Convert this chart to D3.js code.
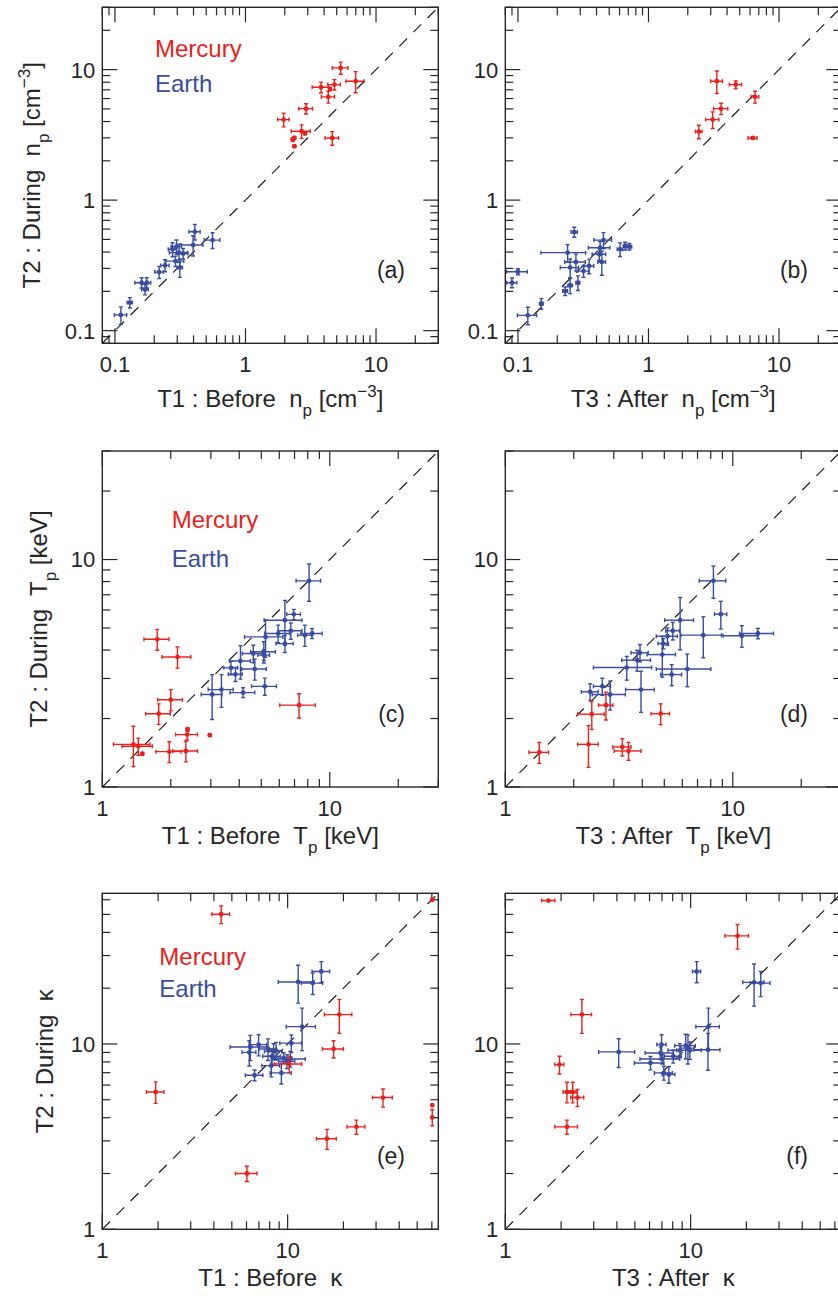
<!DOCTYPE html>
<html><head><meta charset="utf-8">
<script src="https://cdn.jsdelivr.net/npm/d3@7"></script>
<style>
body{margin:0;background:#fff;}
svg{display:block;font-family:"Liberation Sans",Arial,Helvetica,sans-serif;}
</style></head><body>
<svg id="chart" width="838" height="1296"></svg>
<script>
// ---------- DATA: each point is [x, xError, y, yError] ----------
const npDomain = [0.08, 30];
const tpDomain = [1, 30];
const kappaDomain = [1, 65];
const npTicks = [0.1, 1, 10];
const tpTicks = [1, 10];
const kappaTicks = [1, 10];

const npBeforeMercury = [
  [5.36,0.74,10.3,1.1],[6.98,1.1,8.15,1.5],[4.8,0.53,7.67,0.7],[3.79,0.55,7.32,0.7],
  [4.44,0.1,7.1,0.2],[4.31,0.5,6.18,0.65],[2.91,0.35,5.02,0.45],[1.96,0.2,4.14,0.5],
  [2.69,0.45,3.37,0.4],[2.86,0.05,3.24,0.05],[2.3,0.05,2.91,0.1],[2.37,0.04,3.0,0.05],
  [2.37,0.03,2.59,0.04],[4.62,0.55,2.99,0.36]
];
const npBeforeEarth = [
  [0.409,0.04,0.573,0.078],[0.559,0.077,0.494,0.068],[0.397,0.075,0.453,0.08],[0.276,0.02,0.42,0.052],
  [0.296,0.027,0.44,0.055],[0.31,0.049,0.396,0.063],[0.333,0.03,0.39,0.036],[0.291,0.046,0.341,0.031],
  [0.314,0.015,0.304,0.048],[0.242,0.018,0.316,0.033],[0.218,0.016,0.281,0.03],[0.16,0.018,0.233,0.021],
  [0.175,0.013,0.233,0.021],[0.17,0.01,0.207,0.019],[0.13,0.006,0.164,0.015],[0.111,0.012,0.132,0.02]
];
const npAfterMercury = [
  [3.34,0.35,8.15,1.6],[4.66,0.5,7.67,0.5],[6.55,0.45,6.18,0.65],[3.6,0.45,5.02,0.5],
  [3.1,0.36,4.14,0.6],[2.43,0.14,3.35,0.4],[6.29,0.5,2.99,0.07]
];
const npAfterEarth = [
  [0.27,0.015,0.569,0.05],[0.662,0.02,0.445,0.03],[0.714,0.03,0.44,0.025],[0.606,0.03,0.42,0.05],
  [0.452,0.07,0.494,0.07],[0.426,0.08,0.432,0.05],[0.42,0.05,0.385,0.04],[0.439,0.03,0.336,0.07],
  [0.24,0.09,0.396,0.06],[0.278,0.05,0.336,0.05],[0.251,0.04,0.304,0.05],[0.318,0.03,0.286,0.03],
  [0.351,0.03,0.313,0.04],[0.23,0.01,0.201,0.015],[0.251,0.01,0.222,0.03],[0.288,0.01,0.233,0.03],
  [0.1,0.018,0.283,0.015],[0.09,0.008,0.233,0.02],[0.151,0.005,0.161,0.015],[0.119,0.02,0.131,0.02]
];
const tpBeforeMercury = [
  [1.744,0.22,4.46,0.47],[2.14,0.31,3.73,0.4],[2.0,0.25,2.42,0.26],[1.77,0.22,2.1,0.22],
  [7.33,1.3,2.29,0.28],[1.37,0.25,1.54,0.31],[1.44,0.22,1.51,0.13],[1.5,0.01,1.4,0.01],
  [1.97,0.25,1.43,0.15],[2.33,0.29,1.44,0.15],[2.36,0.26,1.7,0.09],[2.37,0.02,1.79,0.03],
  [2.97,0.02,1.69,0.02]
];
const tpBeforeEarth = [
  [8.11,1.0,8.06,1.5],[6.95,0.48,5.74,0.3],[6.35,1.2,5.41,1.2],[6.74,0.8,4.86,0.4],
  [5.93,0.75,4.73,0.42],[6.35,0.55,4.27,0.37],[7.77,0.55,4.65,0.5],[8.36,0.9,4.73,0.24],
  [5.22,1.0,4.57,0.85],[5.13,0.64,3.93,0.42],[5.13,0.3,3.8,0.2],[4.61,0.49,3.86,0.34],
  [4.68,0.58,3.3,0.35],[4.05,0.43,3.58,0.6],[3.68,0.26,3.34,0.23],[3.85,0.27,3.13,0.22],
  [5.18,0.65,2.77,0.24],[4.16,0.52,2.6,0.13],[3.34,0.42,2.68,0.44],[3.04,0.32,2.55,0.57]
];
const tpAfterMercury = [
  [1.41,0.14,1.42,0.15],[2.32,0.24,1.54,0.32],[2.4,0.32,2.09,0.3],[2.77,0.2,2.29,0.32],
  [3.27,0.3,1.5,0.13],[3.48,0.47,1.44,0.13],[4.82,0.45,2.1,0.22]
];
const tpAfterEarth = [
  [8.22,1.1,8.06,1.3],[8.86,0.55,5.75,0.8],[5.87,0.85,5.41,1.4],[5.45,0.38,4.86,0.43],
  [5.16,0.55,4.6,0.4],[4.95,0.26,4.27,0.22],[4.9,0.7,3.82,0.78],[7.42,1.5,4.65,0.95],
  [10.96,1.9,4.62,0.5],[12.9,2.2,4.73,0.25],[6.31,1.7,3.3,0.54],[5.39,0.57,3.12,0.33],
  [3.91,0.34,3.89,0.34],[3.8,0.55,3.61,0.38],[3.42,0.98,3.35,0.4],[3.95,0.57,2.68,0.55],
  [2.67,0.23,2.77,0.24],[2.89,0.48,2.55,0.37],[2.36,0.2,2.62,0.22]
];
const kappaBeforeMercury = [
  [4.38,0.48,50.1,5.5],[1.94,0.21,5.51,0.73],[6.03,0.8,2.0,0.19],[19.0,3.2,14.4,3.0],
  [17.7,2.3,9.4,1.0],[16.3,2.0,3.08,0.38],[23.5,2.6,3.57,0.31],[32.7,4.0,5.14,0.58],
  [10.2,1.7,7.8,0.8],[60.3,0,60,0],[60.3,0,4.67,0],[60.3,0,4.02,0.4]
];
const kappaBeforeEarth = [
  [15.2,1.65,24.6,3.2],[13.65,1.8,21.3,2.8],[11.4,2.5,21.6,5.0],[11.97,2.15,12.4,3.2],
  [10.47,1.4,10.1,1.1],[6.29,1.4,9.63,1.5],[6.97,0.76,9.92,1.3],[6.21,0.53,9.01,1.4],
  [7.84,0.85,9.4,1.25],[8.4,0.9,9.12,0.9],[8.66,0.7,9.2,1.0],[8.24,0.9,8.58,0.8],
  [9.52,1.0,8.41,0.55],[10.34,2.1,8.3,0.8],[9.92,1.0,8.06,0.7],[8.16,0.9,7.64,1.0],
  [9.25,1.2,6.98,0.9],[6.63,0.72,6.78,0.45]
];
const kappaAfterMercury = [
  [1.71,0.14,59.4,0],[17.9,2.6,38.3,5.8],[2.59,0.33,14.4,3.0],[1.96,0.11,7.74,0.85],
  [2.15,0.1,5.51,0.7],[2.31,0.1,5.51,0.7],[2.45,0.2,5.14,0.55],[2.15,0.3,3.57,0.31]
];
const kappaAfterEarth = [
  [10.78,0.55,24.6,3.2],[22.0,2.9,21.5,5.5],[23.9,2.9,21.3,3.3],[12.47,1.8,12.4,3.2],
  [12.4,2.0,9.31,2.1],[4.09,0.9,9.06,1.6],[6.07,1.1,7.9,0.65],[6.97,0.4,9.92,1.3],
  [6.88,1.2,8.94,0.7],[7.03,1.7,8.3,0.5],[8.06,0.85,8.58,0.7],[8.75,1.2,9.24,0.8],
  [9.4,1.2,9.79,1.5],[9.67,0.8,9.5,1.7],[9.91,1.5,9.24,1.0],[7.17,0.8,6.98,0.6],
  [7.63,0.6,6.84,0.7]
];
const seriesNames = ["Mercury", "Earth"];
const panelLabels = ["(a)", "(b)", "(c)", "(d)", "(e)", "(f)"];

// ---------- LAYOUT ----------
const svg = d3.select("#chart");
const S = 336;
const colX = [102.3, 505.3];
const rowY = [7.3, 451, 893.3];
const RED = "#e8211d", BLUE = "#3a4ca0", INK = "#262626";
const xTitleBase = [64, 56.6, 56.7];
const yTitleX = [40, 47, 53];
const legendPos = [[155, 56.5, 91.7], [171.7, 528.3, 567.3], [159.3, 965, 997.3]];

const T_np = (pre) => [{t: pre + "  n"}, {t: "p", s: 1}, {t: " [cm"}, {t: "\u22123", s: -1}, {t: "]"}];
const T_tp = (pre) => [{t: pre + "  T"}, {t: "p", s: 1}, {t: " [keV]"}];
const T_k = (pre) => [{t: pre + "  \u03ba"}];

const panels = [
  {c:0, r:0, dom:npDomain, ticks:npTicks, merc:npBeforeMercury, earth:npBeforeEarth, xt:T_np("T1 : Before"), yt:T_np("T2 : During")},
  {c:1, r:0, dom:npDomain, ticks:npTicks, merc:npAfterMercury, earth:npAfterEarth, xt:T_np("T3 : After")},
  {c:0, r:1, dom:tpDomain, ticks:tpTicks, merc:tpBeforeMercury, earth:tpBeforeEarth, xt:T_tp("T1 : Before"), yt:T_tp("T2 : During")},
  {c:1, r:1, dom:tpDomain, ticks:tpTicks, merc:tpAfterMercury, earth:tpAfterEarth, xt:T_tp("T3 : After")},
  {c:0, r:2, dom:kappaDomain, ticks:kappaTicks, merc:kappaBeforeMercury, earth:kappaBeforeEarth, xt:T_k("T1 : Before"), yt:T_k("T2 : During")},
  {c:1, r:2, dom:kappaDomain, ticks:kappaTicks, merc:kappaAfterMercury, earth:kappaAfterEarth, xt:T_k("T3 : After")}
];

function addSegs(text, segs, big, small) {
  let cur = 0;
  segs.forEach(sg => {
    const target = sg.s === 1 ? 9 : (sg.s === -1 ? -10 : 0);
    text.append("tspan").attr("dy", target - cur)
      .attr("font-size", sg.s ? small : big).text(sg.t);
    cur = target;
  });
}

panels.forEach((p, i) => {
  const x0 = colX[p.c], y0 = rowY[p.r];
  const xs = d3.scaleLog().domain(p.dom).range([x0, x0 + S]);
  const ys = d3.scaleLog().domain(p.dom).range([y0 + S, y0]);
  const g = svg.append("g");
  const clipId = "clip" + i;
  svg.append("clipPath").attr("id", clipId).append("rect")
    .attr("x", x0).attr("y", y0).attr("width", S).attr("height", S);

  // diagonal
  g.append("line").attr("clip-path", `url(#${clipId})`)
    .attr("x1", xs(p.dom[0])).attr("y1", ys(p.dom[0]))
    .attr("x2", xs(p.dom[1])).attr("y2", ys(p.dom[1]))
    .attr("stroke", "#222").attr("stroke-width", 1.2).attr("stroke-dasharray", "11,9");

  // ticks
  const all = xs.ticks();
  const isMajor = v => p.ticks.some(t => Math.abs(t - v) / t < 1e-6);
  all.forEach(v => {
    const L = isMajor(v) ? 15 : 8;
    const px = xs(v), py = ys(v);
    [[px, y0 + S, px, y0 + S - L], [px, y0, px, y0 + L],
     [x0, py, x0 + L, py], [x0 + S, py, x0 + S - L, py]].forEach(q => {
      g.append("line").attr("x1", q[0]).attr("y1", q[1]).attr("x2", q[2]).attr("y2", q[3])
        .attr("stroke", INK).attr("stroke-width", 1.2);
    });
  });
  // frame
  g.append("rect").attr("x", x0).attr("y", y0).attr("width", S).attr("height", S)
    .attr("fill", "none").attr("stroke", INK).attr("stroke-width", 1.4);

  // tick labels
  p.ticks.forEach(t => {
    g.append("text").attr("x", xs(t)).attr("y", y0 + S + 29).attr("text-anchor", "middle")
      .attr("font-size", 22).attr("fill", INK).text(String(t));
    g.append("text").attr("x", x0 - 7).attr("y", ys(t)).attr("dy", "0.36em").attr("text-anchor", "end")
      .attr("font-size", 22).attr("fill", INK).text(String(t));
  });

  // x title
  const xt = g.append("text").attr("x", x0 + S / 2).attr("y", y0 + S + xTitleBase[p.r])
    .attr("text-anchor", "middle").attr("fill", INK).style("white-space", "pre");
  addSegs(xt, p.xt, 24, 17);
  // y title
  if (p.yt) {
    const yt = g.append("text")
      .attr("transform", `translate(${yTitleX[p.r]},${y0 + S / 2}) rotate(-90)`)
      .attr("text-anchor", "middle").attr("fill", INK).style("white-space", "pre");
    addSegs(yt, p.yt, 24, 17);
    const lp = legendPos[p.r];
    g.append("text").attr("x", lp[0]).attr("y", lp[1]).attr("font-size", 24).attr("fill", RED).text(seriesNames[0]);
    g.append("text").attr("x", lp[0]).attr("y", lp[2]).attr("font-size", 24).attr("fill", BLUE).text(seriesNames[1]);
  }
  // panel label
  g.append("text").attr("x", x0 + 302.7).attr("y", y0 + 271).attr("text-anchor", "end")
    .attr("font-size", 23).attr("fill", INK).text(panelLabels[i]);

  // data
  const dg = g.append("g").attr("clip-path", `url(#${clipId})`);
  const cap = 2;
  [[p.earth, BLUE], [p.merc, RED]].forEach(([arr, col]) => {
    arr.forEach(d => {
      const [x, dx, y, dy] = d;
      const cx = xs(x), cy = ys(y);
      const pg = dg.append("g").attr("stroke", col).attr("stroke-width", 1.4).attr("fill", col);
      if (dx > 0) {
        const a = xs(x - dx), b = xs(x + dx);
        pg.append("line").attr("x1", a).attr("x2", b).attr("y1", cy).attr("y2", cy);
        pg.append("line").attr("x1", a).attr("x2", a).attr("y1", cy - cap).attr("y2", cy + cap);
        pg.append("line").attr("x1", b).attr("x2", b).attr("y1", cy - cap).attr("y2", cy + cap);
      }
      if (dy > 0) {
        const a = ys(y - dy), b = ys(y + dy);
        pg.append("line").attr("x1", cx).attr("x2", cx).attr("y1", a).attr("y2", b);
        pg.append("line").attr("x1", cx - cap).attr("x2", cx + cap).attr("y1", a).attr("y2", a);
        pg.append("line").attr("x1", cx - cap).attr("x2", cx + cap).attr("y1", b).attr("y2", b);
      }
      pg.append("circle").attr("cx", cx).attr("cy", cy).attr("r", 2.4).attr("stroke", "none");
    });
  });
});
</script>
</body></html>
